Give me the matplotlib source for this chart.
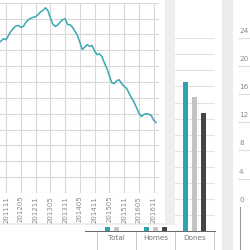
"""Dashboard crop: monthly trend panel over a grouped bar chart."""

import numpy as np
import pandas as pd
import matplotlib
matplotlib.use('Agg')
import matplotlib.pyplot as plt
from matplotlib.patches import Rectangle

# ---- data ----
months = [p.strftime('%Y%m') for p in pd.period_range('2011-08', '2016-12', freq='M')]
trend = [9.45, 9.60, 9.73, 9.67, 9.95, 10.20, 10.40, 10.53, 10.57, 10.45,
         10.50, 10.75, 10.92, 11.02, 11.08, 11.12, 11.25, 11.42, 11.52, 11.68,
         11.50, 11.05, 10.65, 10.50, 10.60, 10.78, 10.92, 10.99, 10.62, 10.62,
         10.45, 10.20, 9.95, 9.50, 9.05, 9.20, 9.35, 9.25, 9.30, 8.95,
         8.72, 8.78, 8.60, 8.20, 7.85, 7.40, 6.95, 6.90, 7.08, 7.14,
         6.90, 6.72, 6.60, 6.30, 6.00, 5.75, 5.40, 5.05, 4.82, 4.95,
         5.00, 4.97, 4.90, 4.60, 4.45]
tick_months = ['201111', '201205', '201211', '201305', '201311', '201405',
               '201411', '201505', '201511', '201605', '201611']

categories = ['Total', 'Homes', 'Dones']
series_a = [0.28, 0.28, 9.30]
series_b = [0.28, 0.28, 8.33]
series_c = [0.0, 0.28, 7.33]

right_ticks = [0, 4, 8, 12, 16, 20, 24]

TEAL = '#2ea3b0'
LIGHT = '#c3c3c3'
DARK = '#454545'
GRID = '#e2e2e2'
TXT = '#8a8a8a'

W = H = 250.


def box(x0, y0, x1, y1):
    """pixel box (top-left origin) -> figure fraction rect"""
    return [x0 / W, 1 - y1 / H, (x1 - x0) / W, (y1 - y0) / H]


fig = plt.figure(figsize=(2.5, 2.5), dpi=100)
fig.patch.set_facecolor('white')

# gray gaps between panels
fig.add_artist(Rectangle((222 / W, 0), 11 / W, 1, transform=fig.transFigure,
                         facecolor='#ebebeb', edgecolor='none', zorder=0.5))

# ---- grouped bar chart (partly hidden) ----
axb = fig.add_axes(box(85, 38.3, 215, 231), zorder=1)
x = np.arange(len(categories))
bw = 0.115
axb.bar(x - 0.235, series_a, bw, color=TEAL, zorder=3)
axb.bar(x, series_b, bw, color=LIGHT, zorder=3)
axb.bar(x + 0.235, series_c, bw, color=DARK, zorder=3)
axb.set_xlim(-0.808, 2.526)
axb.set_ylim(0, 12)
axb.set_yticks(range(13))
axb.yaxis.grid(True, color=GRID, lw=0.8)
axb.set_axisbelow(True)
axb.tick_params(axis='y', length=0, labelleft=False)
axb.set_xticks(x)
axb.set_xticklabels(categories, fontsize=5.2, color='#777777')
axb.set_xticks([-0.5, 0.5, 1.5, 2.5], minor=True)
axb.tick_params(axis='x', which='major', length=0, pad=3)
axb.tick_params(axis='x', which='minor', length=14, width=0.7, color='#c8c8c8')
for s in ['top', 'right', 'left']:
    axb.spines[s].set_visible(False)
axb.spines['bottom'].set_color('#666666')
axb.spines['bottom'].set_linewidth(0.7)

# ---- overlay panel with the monthly line ----
fig.add_artist(Rectangle((-0.1, 1 - 225 / H), (175 / W) + 0.1, 225 / H + 0.1,
                         transform=fig.transFigure, facecolor='#eeeeee',
                         edgecolor='none', zorder=2))
fig.add_artist(Rectangle((-0.1, 1 - 223 / H), (165 / W) + 0.1, 223 / H + 0.1,
                         transform=fig.transFigure, facecolor='white',
                         edgecolor='none', zorder=2.1))

axl = fig.add_axes(box(-10, 2.7, 159, 193), zorder=3)
axl.patch.set_alpha(0)
xi = np.arange(len(months))
axl.plot(xi, trend, color='#3aa7b3', lw=1.1)
first = months.index('201111')
axl.set_xlim(first - 6.55, first + 62.2)
axl.set_ylim(0, 12)
axl.set_yticks(range(13))
axl.set_xticks([months.index(m) for m in tick_months])
axl.set_xticklabels(tick_months, rotation=90, fontsize=5, color=TXT)
axl.tick_params(axis='x', length=0, pad=2)
axl.tick_params(axis='y', length=0, labelleft=False)
axl.grid(True, color='#d8d8d8', lw=0.8)
for s in axl.spines.values():
    s.set_visible(False)

# ---- right panel ----
fig.add_artist(Rectangle((233 / W, 0), 17 / W, 1, transform=fig.transFigure,
                         facecolor='white', edgecolor='none', zorder=0.6))
axr = fig.add_axes(box(238, 37.7, 262, 206.7), zorder=1)
axr.patch.set_alpha(0)
axr.set_xlim(0, 24)
axr.set_ylim(0, 24)
for v in right_ticks:
    axr.axhline(v, color='#9a9a9a' if v == 0 else '#dddddd', lw=0.8)
    axr.text(1, v + 0.55, str(v), fontsize=5.2, color=TXT, va='bottom', ha='left')
axr.plot([2, 2], [0, -6.3], color='#9a9a9a', lw=0.8, clip_on=False)
axr.set_xticks([])
axr.set_yticks([])
for s in axr.spines.values():
    s.set_visible(False)

fig.savefig('out.png', dpi=100)
